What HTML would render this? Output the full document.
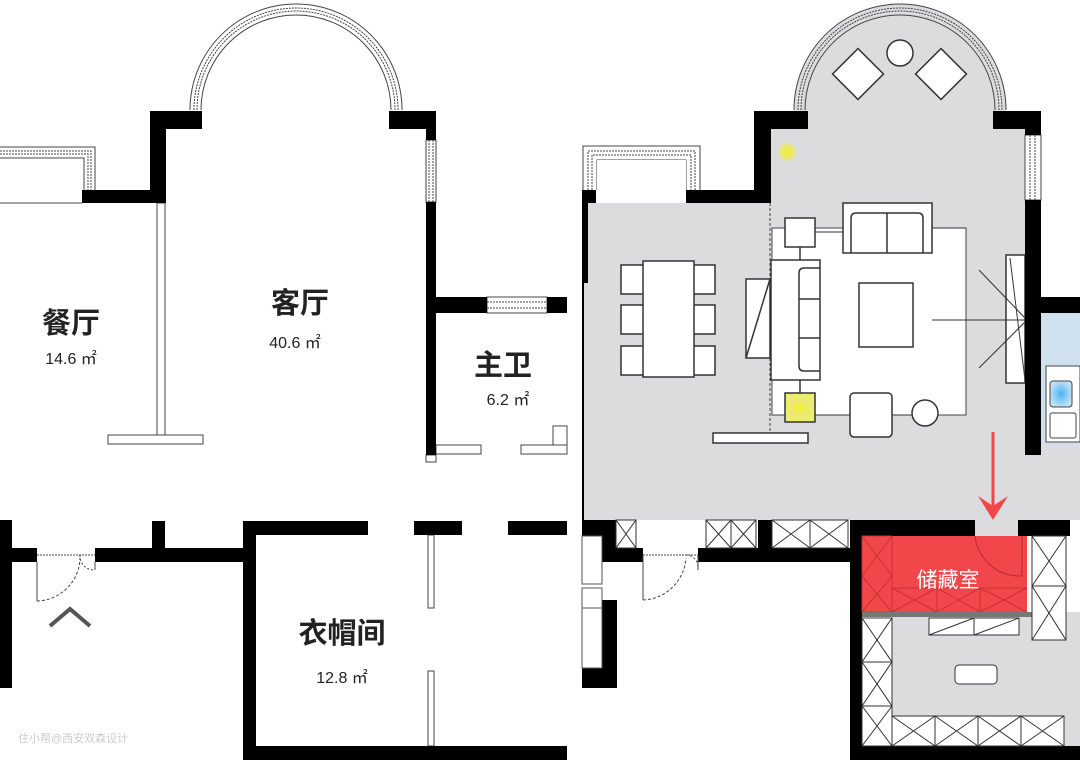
<!DOCTYPE html>
<html><head><meta charset="utf-8"><style>
html,body{margin:0;padding:0;background:#fff;width:1080px;height:764px;overflow:hidden}
svg{display:block}
.t{font-family:"Liberation Sans","Noto Sans CJK SC",sans-serif}
</style></head><body>
<svg width="1080" height="764" viewBox="0 0 1080 764" xmlns="http://www.w3.org/2000/svg">
<defs>
<radialGradient id="yg"><stop offset="0" stop-color="#f2ee3a"/><stop offset="0.6" stop-color="#eeea50" stop-opacity=".8"/><stop offset="1" stop-color="#dcdcde" stop-opacity="0"/></radialGradient>
<radialGradient id="bg"><stop offset="0" stop-color="#49b3f2"/><stop offset="1" stop-color="#bfe0f5"/></radialGradient>
</defs>
<!-- ============ LEFT PANEL ============ -->
<g fill="none" stroke="#444" stroke-width="1">
 <path d="M190 110 A106 106 0 0 1 402 110"/>
 <path d="M201 110 A95 95 0 0 1 391 110"/>
 <path d="M194 110 A102 102 0 0 1 398 110" stroke-dasharray="2 1"/>
 <path d="M197 110 A99 99 0 0 1 395 110" stroke-dasharray="2 1"/>
 <path d="M0 147 H95 V190"/><path d="M0 158 H84 V190"/>
 <path d="M0 151 H91 V190" stroke-dasharray="2 1"/><path d="M0 154 H88 V190" stroke-dasharray="2 1"/>
 <line x1="0" y1="203" x2="82" y2="203"/>
 <rect x="426" y="140" width="10" height="62"/>
 <line x1="429" y1="140" x2="429" y2="202" stroke-dasharray="2 1"/><line x1="433" y1="140" x2="433" y2="202" stroke-dasharray="2 1"/>
 <rect x="487" y="297" width="60" height="16"/>
 <line x1="487" y1="302" x2="547" y2="302" stroke-dasharray="2 1"/><line x1="487" y1="308" x2="547" y2="308" stroke-dasharray="2 1"/>
 <rect x="157" y="203" width="8" height="232"/>
 <rect x="108" y="435" width="95" height="9"/>
 <rect x="426" y="455" width="10" height="7"/>
 <rect x="436" y="445" width="45" height="9"/>
 <rect x="521" y="445" width="46" height="9"/>
 <rect x="553" y="426" width="14" height="19"/>
 <rect x="428" y="535" width="6" height="73"/>
 <rect x="428" y="671" width="6" height="75"/>
 <line x1="37" y1="555" x2="95" y2="555" stroke-dasharray="2 1"/>
 <line x1="37" y1="562" x2="37" y2="601"/>
 <path d="M37 601 A44 44 0 0 0 80 558" stroke-dasharray="3 2"/>
 <line x1="95" y1="562" x2="95" y2="570"/>
 <path d="M80 555 A14 14 0 0 0 94 570" stroke-dasharray="2 2"/>
</g>
<g fill="#000">
 <rect x="150" y="111" width="52" height="18"/>
 <rect x="150" y="111" width="16" height="92"/>
 <rect x="82" y="190" width="84" height="13"/>
 <rect x="389" y="111" width="47" height="18"/>
 <rect x="426" y="111" width="10" height="29"/>
 <rect x="426" y="202" width="10" height="253"/>
 <rect x="436" y="297" width="51" height="16"/>
 <rect x="547" y="297" width="20" height="16"/>
 <rect x="0" y="520" width="12" height="168"/>
 <rect x="12" y="548" width="25" height="14"/>
 <rect x="95" y="548" width="150" height="14"/>
 <rect x="152" y="521" width="13" height="27"/>
 <rect x="243" y="521" width="13" height="239"/>
 <rect x="243" y="521" width="125" height="14"/>
 <rect x="414" y="521" width="48" height="14"/>
 <rect x="508" y="521" width="59" height="14"/>
 <rect x="243" y="746" width="324" height="14"/>
</g>
<path d="M50 626 L70 609 L90 626" fill="none" stroke="#555" stroke-width="4"/>
<g class="t" fill="#222" font-weight="bold" text-anchor="middle" font-size="29">
 <text x="71" y="333">餐厅</text>
 <text x="300" y="313">客厅</text>
 <text x="503" y="375">主卫</text>
 <text x="342" y="643">衣帽间</text>
</g>
<g class="t" fill="#222" text-anchor="middle" font-size="16">
 <text x="71" y="364">14.6 ㎡</text>
 <text x="295" y="348">40.6 ㎡</text>
 <text x="508" y="405">6.2 ㎡</text>
 <text x="342" y="683">12.8 ㎡</text>
</g>
<text class="t" x="18" y="742" font-size="11" fill="#ccc">住小帮@西安双森设计</text>

<!-- ============ RIGHT PANEL ============ -->
<g fill="#dcdcde">
 <path d="M794 110 A106 106 0 0 1 1006 110 V129 H1025 V445 H1080 V520 H582 V203 H771 V129 H794 Z"/>
 <rect x="892" y="612" width="188" height="134"/>
 <rect x="970" y="515" width="52" height="25"/>
</g>
<rect x="1041" y="313" width="39" height="132" fill="#cfe0ef"/>
<g fill="#fff" stroke="#444">
 <rect x="1046" y="366" width="34" height="76"/>
 <rect x="1050" y="381" width="22" height="26" rx="3" fill="url(#bg)"/>
 <rect x="1050" y="413" width="26" height="25" rx="2"/>
</g>
<g fill="none" stroke="#444">
 <path d="M794 110 A106 106 0 0 1 1006 110"/>
 <path d="M805 110 A95 95 0 0 1 995 110"/>
 <path d="M798 110 A102 102 0 0 1 1002 110" stroke-dasharray="2 1"/>
 <path d="M801 110 A99 99 0 0 1 999 110" stroke-dasharray="2 1"/>
 <path d="M583 190 V146 H700 V190"/><path d="M597 190 V160 H686 V190"/>
 <path d="M588 190 V151 H695 V190" stroke-dasharray="2 1"/><path d="M592 190 V155 H691 V190" stroke-dasharray="2 1"/>
 <rect x="1025" y="135" width="16" height="65"/>
 <line x1="1030" y1="135" x2="1030" y2="200" stroke-dasharray="2 1"/><line x1="1035" y1="135" x2="1035" y2="200" stroke-dasharray="2 1"/>
 <line x1="770" y1="203" x2="770" y2="435" stroke-dasharray="3 2"/>
</g>
<rect x="597" y="160" width="89" height="43" fill="#fff"/>
<rect x="772" y="228" width="194" height="187" fill="#fff" stroke="#444"/>
<g fill="#fff" stroke="#333" stroke-width="1.5">
 <rect x="840" y="56" width="36" height="36" transform="rotate(45 858 74)"/>
 <rect x="923" y="56" width="36" height="36" transform="rotate(45 941 74)"/>
 <circle cx="900" cy="53" r="13"/>
 <rect x="843" y="203" width="89" height="50"/>
 <path d="M851 253 V218 Q851 213 856 213 H918 Q923 213 923 218 V253" fill="none"/>
 <line x1="887" y1="213" x2="887" y2="253"/>
 <rect x="785" y="218" width="30" height="29"/>
 <rect x="785" y="393" width="30" height="29" fill="#ecec70"/>
 <line x1="800" y1="247" x2="800" y2="260"/><line x1="800" y1="380" x2="800" y2="393"/>
 <rect x="771" y="260" width="49" height="120"/>
 <path d="M820 268 H804 Q799 268 799 273 V366 Q799 371 804 371 H820" fill="none"/>
 <line x1="799" y1="299" x2="820" y2="299"/><line x1="799" y1="338" x2="820" y2="338"/>
 <rect x="746" y="279" width="24" height="79"/>
 <line x1="746" y1="358" x2="770" y2="279"/>
 <rect x="859" y="283" width="54" height="64"/>
 <rect x="850" y="393" width="42" height="44" rx="4"/>
 <circle cx="925" cy="413" r="13"/>
 <rect x="713" y="433" width="95" height="10"/>
 <rect x="621" y="265" width="26" height="29"/><rect x="621" y="305" width="26" height="29"/><rect x="621" y="346" width="26" height="29"/>
 <rect x="689" y="265" width="26" height="29"/><rect x="689" y="305" width="26" height="29"/><rect x="689" y="346" width="26" height="29"/>
 <rect x="643" y="261" width="51" height="116"/>
 <rect x="1006" y="255" width="19" height="128"/>
</g>
<g stroke="#333" fill="none">
 <line x1="815" y1="232" x2="843" y2="232"/><line x1="932" y1="228" x2="966" y2="228"/>
 <line x1="815" y1="415" x2="850" y2="415"/><line x1="892" y1="415" x2="912" y2="415"/>
 <line x1="932" y1="320" x2="1025" y2="320"/>
 <line x1="979" y1="270" x2="1025" y2="318"/><line x1="979" y1="368" x2="1025" y2="322"/>
 <line x1="1010" y1="258" x2="1025" y2="380"/>
</g>
<circle cx="787" cy="152" r="11" fill="url(#yg)"/>
<rect x="787" y="398" width="26" height="20" fill="url(#yg)" opacity=".9"/>
<g fill="#000">
 <rect x="754" y="111" width="54" height="18"/>
 <rect x="754" y="111" width="17" height="92"/>
 <rect x="686" y="190" width="85" height="13"/>
 <rect x="582" y="190" width="14" height="13"/>
 <rect x="582" y="203" width="6" height="80"/>
 <rect x="582" y="283" width="2" height="240"/>
 <rect x="993" y="111" width="48" height="18"/>
 <rect x="1025" y="111" width="16" height="24"/>
 <rect x="1025" y="200" width="16" height="255"/>
 <rect x="1041" y="297" width="39" height="16"/>
 <rect x="582" y="520" width="35" height="42"/>
 <rect x="582" y="548" width="61" height="14"/>
 <rect x="698" y="548" width="152" height="14"/>
 <rect x="758" y="520" width="14" height="28"/>
 <rect x="850" y="520" width="125" height="16"/>
 <rect x="1018" y="520" width="52" height="16"/>
 <rect x="850" y="520" width="12" height="240"/>
 <rect x="850" y="746" width="230" height="14"/>
 <rect x="582" y="600" width="35" height="88"/>
</g>
<g fill="#fff" stroke="#555">
 <rect x="582" y="536" width="20" height="48"/>
 <rect x="582" y="588" width="20" height="20"/>
 <rect x="582" y="608" width="20" height="60"/>
</g>
<g fill="none" stroke="#444">
 <line x1="643" y1="555" x2="698" y2="555" stroke-dasharray="2 1"/>
 <line x1="643" y1="555" x2="643" y2="600"/>
 <path d="M643 600 A45 45 0 0 0 686 558" stroke-dasharray="3 2"/>
 <path d="M686 555 A12 12 0 0 1 698 567" stroke-dasharray="2 2"/>
 <line x1="698" y1="555" x2="698" y2="570"/>
</g>
<rect x="862" y="536" width="165" height="76" fill="#f2474a"/>
<g stroke="#c83035" fill="none">
 <rect x="862" y="536" width="30" height="76"/>
 <line x1="862" y1="536" x2="892" y2="576"/><line x1="892" y1="536" x2="862" y2="576"/>
 <line x1="862" y1="576" x2="892" y2="612"/><line x1="892" y1="576" x2="862" y2="612"/>
 <path d="M892 588 H1027 M937 588 V612 M980 588 V612 M892 588 L937 612 M937 588 L892 612 M937 588 L980 612 M980 588 L937 612 M980 588 L1027 612 M1027 588 L980 612"/>
 <path d="M975 536 A45 45 0 0 0 1018 576 H1022 V536" stroke="#b52a2e"/>
</g>
<text class="t" x="948" y="587" fill="#fff" font-size="21" text-anchor="middle">储藏室</text>
<rect x="862" y="612" width="170" height="5" fill="#777"/>
<g fill="#fff" stroke="#333">
 <rect x="616" y="520" width="20" height="28"/>
 <rect x="706" y="520" width="25" height="28"/><rect x="731" y="520" width="25" height="28"/>
 <rect x="772" y="520" width="38" height="28"/><rect x="810" y="520" width="38" height="28"/>
 <rect x="1032" y="536" width="34" height="50"/><rect x="1032" y="586" width="34" height="54"/>
 <rect x="862" y="618" width="30" height="44"/><rect x="862" y="662" width="30" height="44"/><rect x="862" y="706" width="30" height="40"/>
 <rect x="892" y="716" width="43" height="30"/><rect x="935" y="716" width="43" height="30"/><rect x="978" y="716" width="43" height="30"/><rect x="1021" y="716" width="43" height="30"/>
 <rect x="929" y="618" width="45" height="17"/><rect x="974" y="618" width="45" height="17"/>
 <rect x="955" y="665" width="42" height="19" rx="4"/>
</g>
<g stroke="#333" fill="none">
 <path d="M616 520 L636 548 M636 520 L616 548 M706 520 L731 548 M731 520 L706 548 M731 520 L756 548 M756 520 L731 548 M772 520 L810 548 M810 520 L772 548 M810 520 L848 548 M848 520 L810 548"/>
 <path d="M1032 536 L1066 586 M1066 536 L1032 586 M1032 586 L1066 640 M1066 586 L1032 640"/>
 <path d="M862 618 L892 662 M892 618 L862 662 M862 662 L892 706 M892 662 L862 706 M862 706 L892 746 M892 706 L862 746"/>
 <path d="M892 716 L935 746 M935 716 L892 746 M935 716 L978 746 M978 716 L935 746 M978 716 L1021 746 M1021 716 L978 746 M1021 716 L1064 746 M1064 716 L1021 746"/>
 <path d="M929 635 L974 618 M974 635 L1019 618"/>
</g>
<line x1="993" y1="432" x2="993" y2="510" stroke="#f2474a" stroke-width="3"/>
<path d="M978 496 L993 520 L1008 496 L993 506 Z" fill="#f2474a"/>
</svg>
</body></html>
